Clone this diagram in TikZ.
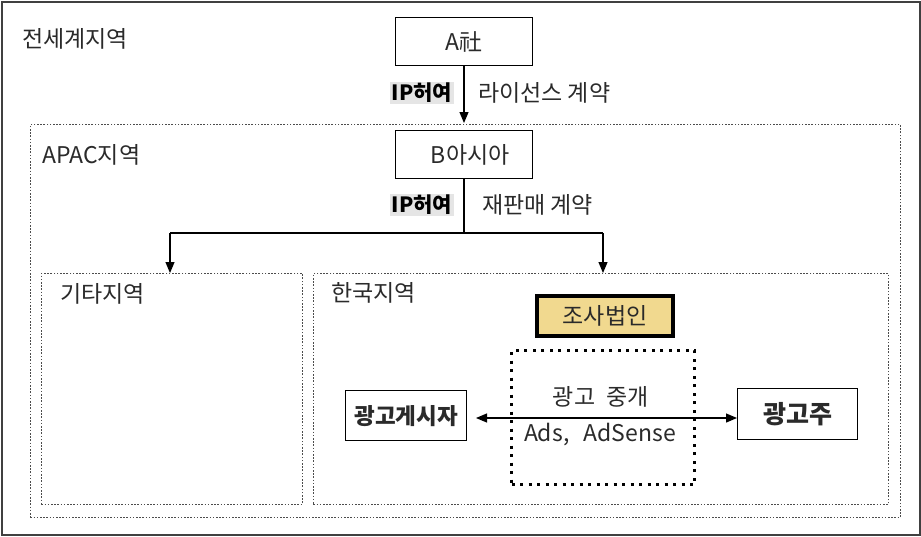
\documentclass[tikz,border=0pt]{standalone}
\usepackage{fontspec}
\setmainfont{Noto Sans CJK KR}
\usetikzlibrary{arrows.meta}
\definecolor{tan}{HTML}{F1D98F}
\definecolor{txt}{HTML}{2A2A2A}
\tikzset{
  region/.style={draw=black!70, line width=0.9pt, dash pattern=on 1.6pt off 1.6pt, inner sep=0pt, anchor=north west},
  solidbox/.style={draw=black, line width=1.4pt, inner sep=0pt, anchor=north west, text=txt},
  lbl/.style={inner sep=0pt, text=txt, font=\fontsize{23}{26}\selectfont},
  iplbl/.style={inner sep=1.5pt, fill=black!10, font=\fontsize{21}{24}\selectfont\bfseries, text=black},
  arr/.style={draw=black, line width=1.2pt, -{Triangle[length=11pt,width=9pt]}},
  dblarr/.style={draw=black, line width=1.2pt, {Triangle[length=11pt,width=9pt]}-{Triangle[length=11pt,width=9pt]}},
  plain/.style={draw=black, line width=1.2pt}
}
\begin{document}
\begin{tikzpicture}[x=1pt,y=-1pt]
\useasboundingbox (0,0) rectangle (921,536);
% regions
\node[draw=black!75, line width=1.6pt, inner sep=0pt, anchor=north west, minimum width=918pt, minimum height=533pt] (world) at (1,1) {};
\node[region, minimum width=870pt, minimum height=393pt] (apac) at (30,124) {};
\node[region, minimum width=261pt, minimum height=231pt] (other) at (41,273) {};
\node[region, minimum width=575pt, minimum height=231pt] (korea) at (313,273) {};
% region labels
\node[lbl, anchor=west] (lworld) at (22,39) {전세계지역};
\node[lbl, anchor=west] (lapac) at (42,155) {APAC지역};
\node[lbl, anchor=west] (lother) at (60,294) {기타지역};
\node[lbl, anchor=west] (lkorea) at (331,293) {한국지역};
% boxes
\node[solidbox, minimum width=137pt, minimum height=48pt, font=\fontsize{23}{26}\selectfont] (A) at (395,17) {A社};
\node[solidbox, minimum width=137pt, minimum height=48pt, font=\fontsize{23}{26}\selectfont] (B) at (395,130) {\hspace{12pt}B아시아};
\node[draw=black, line width=4pt, fill=tan, inner sep=0pt, anchor=north west, minimum width=136pt, minimum height=40pt, font=\fontsize{23}{26}\selectfont, text=txt] (josa) at (535,294) {조사법인};
\node[draw=black, line width=3pt, dash pattern=on 3pt off 5.5pt, inner sep=0pt, anchor=north west, minimum width=183pt, minimum height=134pt] (broker) at (510,349) {};
\node[solidbox, minimum width=121pt, minimum height=50pt, font=\fontsize{22.5}{26}\selectfont\bfseries] (pub) at (345,390) {광고게시자};
\node[solidbox, minimum width=120pt, minimum height=51pt, font=\fontsize{25}{28}\selectfont\bfseries] (adv) at (737,388) {광고주};
% broker labels
\node[lbl] (lbroker) at (601,397) {광고\hspace{0.5em}중개};
\node[lbl] (lads) at (600,435) {Ads,\hspace{0.4em} AdSense};
% IP labels
\node[iplbl, anchor=east] (ip1) at (454,93) {IP허여};
\node[lbl, anchor=west] (lic) at (478,93) {라이선스 계약};
\node[iplbl, anchor=east] (ip2) at (454,205) {IP허여};
\node[lbl, anchor=west] (resale) at (482,205) {재판매 계약};
% connectors
\draw[arr] (A.south -| 464,0) -- (464,123);
\coordinate (jn) at (464,233);
\coordinate (jl) at (170,233);
\coordinate (jr) at (603,233);
\draw[plain] (B.south -| jn) -- (jn);
\draw[plain] (jl) -- (jr);
\draw[arr] (jl) -- (jl |- other.north);
\draw[arr] (jr) -- (jr |- korea.north);
\coordinate (dl) at (476,418);
\draw[dblarr] (dl) -- (dl -| adv.west);
\end{tikzpicture}
\end{document}
